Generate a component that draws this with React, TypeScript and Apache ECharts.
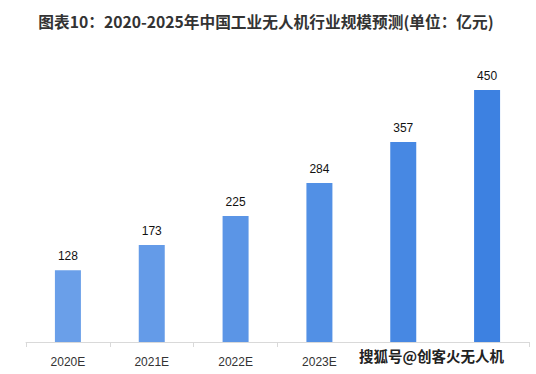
import React, { useEffect, useRef } from "react";
import * as echarts from "echarts";

const categories = ["2020E", "2021E", "2022E", "2023E", "2024E", "2025E"];
const values = [128, 173, 225, 284, 357, 450];
const barColors = ["#6a9fe9", "#649be8", "#5b95e6", "#5290e5", "#4788e3", "#3d81e1"];
const titleText = "图表10：2020-2025年中国工业无人机行业规模预测(单位：亿元)";
const watermark = "搜狐号@创客火无人机";
// categories whose axis labels are covered by the watermark in the reference
const hiddenLabelCount = 2;

export default function App() {
  const ref = useRef<HTMLDivElement>(null);
  useEffect(() => {
    if (!ref.current) return;
    const chart = echarts.init(ref.current, undefined, { renderer: "svg" });
    chart.setOption({
      animation: false,
      backgroundColor: "#ffffff",
      title: {
        text: titleText,
        left: 261,
        textAlign: "center",
        top: 9,
        textStyle: {
          fontFamily: "Noto Sans CJK SC",
          fontSize: 15.7,
          fontWeight: "bold",
          color: "#333333",
        },
      },
      grid: { left: 26, right: 7, top: 62, bottom: 32, containLabel: false },
      xAxis: {
        type: "category",
        data: categories,
        axisLine: { lineStyle: { color: "#d9d9d9", width: 1 } },
        axisTick: { show: true, length: 5, lineStyle: { color: "#d9d9d9" } },
        axisLabel: {
          color: "#333333",
          fontSize: 12,
          fontFamily: "Liberation Sans",
          margin: 14,
          interval: (index: number) => index < categories.length - hiddenLabelCount,
        },
      },
      yAxis: {
        type: "value",
        min: 0,
        max: 500,
        show: false,
        splitLine: { show: false },
      },
      series: [
        {
          type: "bar",
          barWidth: 26,
          data: values.map((v, i) => ({ value: v, itemStyle: { color: barColors[i] } })),
          label: {
            show: true,
            position: "top",
            distance: 8,
            color: "#111111",
            fontSize: 12,
            fontFamily: "Liberation Sans",
          },
        },
      ],
      graphic: [
        {
          type: "text",
          left: 358,
          top: 347,
          z: 100,
          style: {
            text: watermark,
            fontFamily: "Noto Sans CJK SC",
            fontSize: 14.5,
            fontWeight: "bold",
            fill: "#222222",
            stroke: "#ffffff",
            lineWidth: 2,
          },
        },
      ],
    });
    return () => chart.dispose();
  }, []);
  return <div ref={ref} style={{ width: 536, height: 374, position: "absolute", left: 0, top: 0 }} />;
}
